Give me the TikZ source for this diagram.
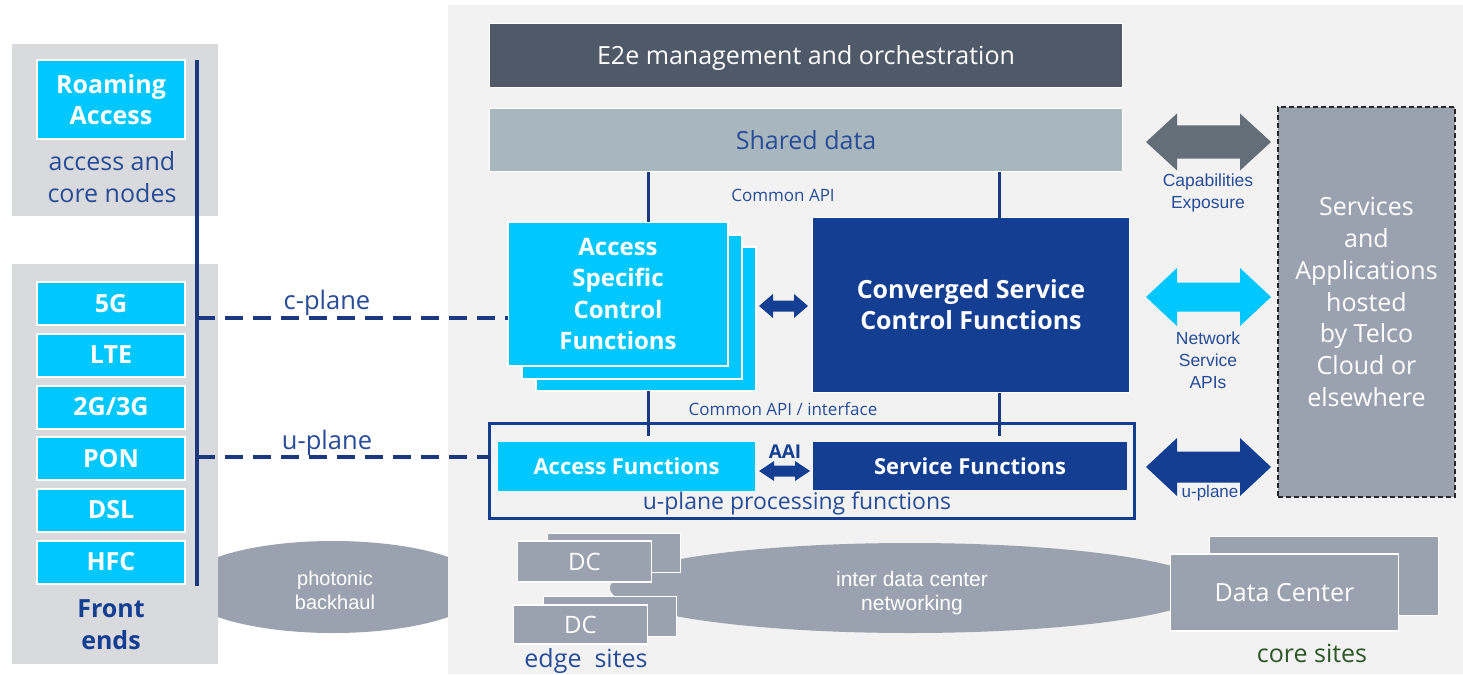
\documentclass[tikz,border=0pt]{standalone}
\usepackage{fontspec}
\setmainfont{Open Sans}
\newfontfamily\arialfont{Liberation Sans}
\usetikzlibrary{shapes.geometric}

\definecolor{cyanbox}{RGB}{0,200,255}
\definecolor{navy}{RGB}{20,62,145}
\definecolor{linenavy}{RGB}{26,57,128}
\definecolor{txtblue}{RGB}{40,76,152}
\definecolor{panelgrey}{RGB}{242,242,242}
\definecolor{sidegrey}{RGB}{217,218,221}
\definecolor{slate}{RGB}{79,89,104}
\definecolor{shared}{RGB}{168,183,190}
\definecolor{stone}{RGB}{153,162,174}
\definecolor{capgrey}{RGB}{100,110,121}
\definecolor{sitegreen}{RGB}{46,86,40}

\newcommand\fsz[2]{\fontsize{#1}{#2}\selectfont}
% filled double-headed block arrow:
% colour, x left, x right, y, shaft half height, head half height, head length
\newcommand\blockarrow[7]{%
  \fill[#1] (#2,#4) -- ({#2+#7},{#4-#6}) -- ({#2+#7},{#4-#5}) -- ({#3-#7},{#4-#5})
    -- ({#3-#7},{#4-#6}) -- (#3,#4) -- ({#3-#7},{#4+#6}) -- ({#3-#7},{#4+#5})
    -- ({#2+#7},{#4+#5}) -- ({#2+#7},{#4+#6}) -- cycle;}

\begin{document}
\begin{tikzpicture}[x=1pt,y=-1pt,
  every node/.style={inner sep=0pt, outer sep=0pt},
  panel/.style={rectangle, fill=#1},
  tile/.style={rectangle, fill=cyanbox, draw=white, line width=2pt, text=white,
    font=\fsz{25}{30}\bfseries, minimum width=148pt, minimum height=43pt},
  stackbox/.style={rectangle, fill=cyanbox, draw=white, line width=2.5pt,
    minimum width=220pt, minimum height=144pt},
  stonebox/.style={rectangle, fill=stone, draw=white, line width=1.5pt, text=white},
  blob/.style={ellipse, fill=stone},
  blobtext/.style={text=white, align=center, font=\arialfont\fsz{#1}{24}},
  txt/.style={text=txtblue, align=center},
  vline/.style={draw=linenavy, line width=3pt},
  bus/.style={draw=linenavy, line width=3.5pt},
  planeline/.style={draw=linenavy, line width=3.5pt, dash pattern=on 18pt off 10pt},
]
\useasboundingbox (0,0) rectangle (1463,674);
\fill[white] (0,0) rectangle (1463,674);

% photonic backhaul, partly hidden behind the panels
\node[blob, minimum width=304pt, minimum height=92pt] (phot) at (333,587) {};
\node[blobtext=20] (photT) at (335,590) {photonic\\backhaul};

% panels
\node[panel=panelgrey, minimum width=1015pt, minimum height=669pt] (main) at (955.5,339.5) {};
\node[panel=sidegrey, minimum width=206pt, minimum height=172pt] (side1) at (115,130) {};
\node[panel=sidegrey, minimum width=206pt, minimum height=400pt] (side2) at (115,464) {};

% roaming access
\node[tile, minimum height=79pt, align=center, font=\fsz{25}{31}\bfseries] (roam) at (111,99.5) {Roaming\\Access};
\node[txt, font=\fsz{25}{32}] (acn) at (112,177) {access and\\core nodes};

% front ends
\node[tile] (fe1) at (111,303.5) {5G};
\node[tile] (fe2) at (111,355) {LTE};
\node[tile] (fe3) at (111,407) {2G/3G};
\node[tile] (fe4) at (111,458.5) {PON};
\node[tile] (fe5) at (111,510) {DSL};
\node[tile] (fe6) at (111,562) {HFC};
\node[txt, text=navy, font=\fsz{25}{32}\bfseries] (fends) at (111,625) {Front\\ends};

% common bus of the front ends
\coordinate (busTop) at (197,60);
\coordinate (busBot) at (197,586);
\draw[bus] (busTop) -- (busBot);

% management and data layers
\node[rectangle, fill=slate, draw=white, line width=1.5pt, text=white, font=\fsz{25}{30},
  text depth=0pt, minimum width=633pt, minimum height=64pt] (e2e) at (806,55.5) {E2e management and orchestration};
\node[rectangle, fill=shared, draw=white, line width=1.5pt, text=txtblue, font=\fsz{25}{30},
  minimum width=633pt, minimum height=63pt] (shared) at (806,140) {Shared data};

% control functions
\node[stackbox] (ascf3) at (646,319) {};
\node[stackbox] (ascf2) at (632,307) {};
\node[stackbox, text=white, align=center, font=\fsz{24}{31.6}\bfseries] (ascf1) at (618,294)
  {Access\\Specific\\Control\\Functions};
\node[rectangle, fill=navy, draw=white, line width=1.5pt, text=white, align=center,
  font=\fsz{25}{31}\bfseries, minimum width=317pt, minimum height=175pt] (cscf) at (971,305)
  {Converged Service\\Control Functions};

% services and applications
\node[rectangle, fill=stone, draw=black!85, line width=1.5pt, dash pattern=on 5pt off 3pt,
  text=white, align=center, font=\fsz{25}{31.8}, minimum width=177pt, minimum height=390pt]
  (svc) at (1366.5,302) {Services\\and\\Applications\\hosted\\by Telco\\Cloud or\\elsewhere};

% u-plane processing functions
\node[rectangle, draw=navy, line width=3pt, minimum width=645pt, minimum height=95pt] (upbox) at (812,471) {};
\node[rectangle, fill=cyanbox, text=white, font=\fsz{22}{25}\bfseries,
  minimum width=257pt, minimum height=49pt] (accf) at (626.5,466.5) {Access Functions};
\node[rectangle, fill=navy, text=white, font=\fsz{22}{25}\bfseries,
  minimum width=314pt, minimum height=48pt] (srvf) at (970,466) {Service Functions};
\node[text=navy, font=\fsz{19}{22}\bfseries] (aai) at (785,452) {AAI};
\node[txt, font=\fsz{23}{26}] (upfl) at (797,503.5) {u-plane processing functions};

% interface labels
\node[txt, font=\fsz{17}{20}] (capi) at (783,195) {Common API};
\node[txt, font=\fsz{17}{20}] (capi2) at (783,409.5) {Common API / interface};
\node[txt, font=\fsz{25.5}{28}] (cpt) at (327,303) {c-plane};
\node[txt, font=\fsz{25.5}{28}] (upt) at (327,443) {u-plane};

% vertical API lines
\coordinate (xa) at (648,0);
\coordinate (xb) at (999,0);
\path ([yshift=6pt]accf.north) coordinate (accTop);
\draw[vline] (shared.south -| xa) -- (ascf1.north -| xa);
\draw[vline] (ascf3.south -| xa) -- (accTop -| xa);
\draw[vline] (shared.south -| xb) -- (cscf.north -| xb);
\draw[vline] (cscf.south -| xb) -- (accTop -| xb);

% c-plane and u-plane links
\coordinate (cpl) at (197,318);
\coordinate (upl) at (197,457);
\draw[planeline] (cpl) -- (cpl -| ascf1.west);
\draw[planeline] (upl) -- (upl -| upbox.west);

% block arrows
\blockarrow{navy}{759}{808}{306}{5.5}{12}{14}
\blockarrow{navy}{759}{810}{471}{5.5}{10}{15}
\blockarrow{capgrey}{1146}{1271}{142}{16.5}{28.5}{31}
\blockarrow{cyanbox}{1146}{1271}{297}{14.5}{29}{31}
\blockarrow{navy}{1146}{1271}{467}{15.5}{29}{31}

\node[txt, font=\arialfont\fsz{17.5}{22}] (capx) at (1208,193) {Capabilities\\Exposure};
\node[txt, font=\arialfont\fsz{17.5}{22}] (nsapi) at (1208,360) {Network\\Service\\APIs};
\node[txt, font=\arialfont\fsz{17}{20}] (upa) at (1210,493) {u-plane};

% sites and networking
\node[blob, minimum width=600pt, minimum height=90pt] (idc) at (910,588) {};
\node[blobtext=21] (idcT) at (912,593) {inter data center\\networking};
\node[stonebox, minimum width=133pt, minimum height=39pt] (dc1b) at (614,553) {};
\node[stonebox, minimum width=134pt, minimum height=41pt, font=\fsz{24}{28}] (dc1) at (584.5,561.5) {DC};
\node[stonebox, minimum width=133pt, minimum height=40pt] (dc2b) at (610,616.5) {};
\node[stonebox, minimum width=134pt, minimum height=39pt, font=\fsz{24}{28}] (dc2) at (580.5,624.5) {DC};
\node[txt, font=\fsz{25}{30}] (edge) at (586,661) {edge\ \ sites};

\node[stonebox, minimum width=229pt, minimum height=79pt] (dcb) at (1324,576) {};
\node[stonebox, minimum width=228pt, minimum height=77pt, font=\fsz{25}{30}] (dcf) at (1284.5,592.5) {Data Center};
\node[text=sitegreen, font=\fsz{25}{30}] (core) at (1312,653) {core sites};
\end{tikzpicture}
\end{document}
